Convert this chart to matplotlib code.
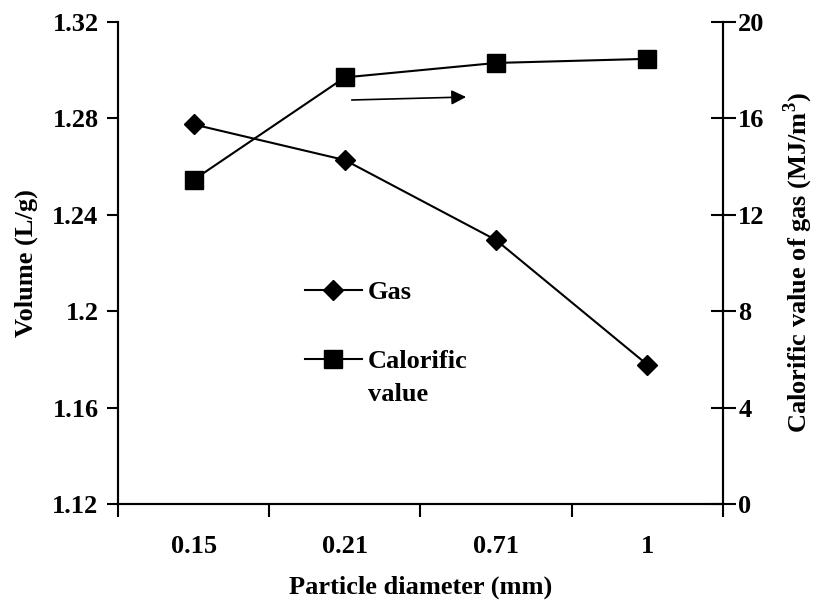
import matplotlib
matplotlib.use("Agg")
import matplotlib.pyplot as plt
from matplotlib.lines import Line2D

plt.rcParams["font.family"] = ["Liberation Serif", "DejaVu Serif"]
plt.rcParams["font.weight"] = "bold"
plt.rcParams["mathtext.fontset"] = "custom"
plt.rcParams["mathtext.rm"] = "Liberation Serif:bold"

# particle size classes and measured values
diameters = ["0.15", "0.21", "0.71", "1"]
gas_volume = [1.2775, 1.2627, 1.2295, 1.1778]       # L/g
calorific = [13.45, 17.7, 18.3, 18.47]              # MJ/m3

FS = 19

fig = plt.figure(figsize=(8.16, 6.02), dpi=100)
ax = fig.add_axes([0.1446, 0.1628, 0.7414, 0.8007])
ax2 = ax.twinx()

x = list(range(len(diameters)))
gas_style = dict(color="black", lw=1.5, marker="D", ms=10.5)
cal_style = dict(color="black", lw=1.5, marker="s", ms=12.5)
ax.plot(x, gas_volume, **gas_style)
ax2.plot(x, calorific, **cal_style)

ax.set_xlim(-0.5, len(diameters) - 0.5)
ax.set_ylim(1.12, 1.32)
ax.set_yticks([1.12, 1.16, 1.2, 1.24, 1.28, 1.32])
ax.set_yticklabels(["1.12", "1.16", "1.2", "1.24", "1.28", "1.32"])
ax2.set_ylim(0, 20)
ax2.set_yticks([0, 4, 8, 12, 16, 20])

# category labels centred, tick marks on the boundaries
ax.set_xticks(x)
ax.set_xticklabels(diameters)
ax.set_xticks([i - 0.5 for i in range(len(diameters) + 1)], minor=True)
ax.tick_params(axis="x", which="major", length=0, pad=22, labelsize=FS)
ax.tick_params(axis="x", which="minor", length=9, width=1.5, direction="out")
ax.tick_params(axis="y", length=8, width=1.5, direction="out", labelsize=FS, pad=6)
ax2.tick_params(axis="y", length=18, width=1.5, direction="inout", labelsize=FS, pad=2)

for a in (ax, ax2):
    a.spines["top"].set_visible(False)
    for s in ("left", "right", "bottom"):
        a.spines[s].set_linewidth(1.5)

ax.set_xlabel("Particle diameter (mm)", fontsize=FS, fontweight="bold", labelpad=13)
ax.set_ylabel("Volume (L/g)", fontsize=FS, fontweight="bold", labelpad=10)
ax2.set_ylabel("Calorific value of gas (MJ/m$^3$)", fontsize=FS,
               fontweight="bold", labelpad=12)

# arrow pointing at the right-hand axis
ax.annotate("", xy=(1.82, 1.2889), xytext=(1.027, 1.2876),
            arrowprops=dict(arrowstyle="-|>", color="black", lw=1.2,
                            mutation_scale=22))

# key, laid out by hand so the square sits beside the first line of its label
key_x = [0.309, 0.356, 0.403]
for y, style in ((0.444, gas_style), (0.301, cal_style)):
    ax2.add_line(Line2D(key_x, [y] * 3, transform=ax2.transAxes,
                        markevery=[1], **style))
for y, txt in ((0.444, "Gas"), (0.301, "Calorific"), (0.232, "value")):
    ax2.text(0.413, y, txt, transform=ax2.transAxes, fontsize=FS,
             fontweight="bold", va="center_baseline", ha="left")

fig.savefig("out.png", dpi=100)
